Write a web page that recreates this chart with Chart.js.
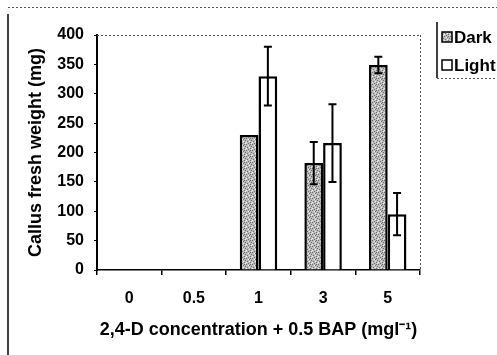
<!DOCTYPE html>
<html>
<head>
<meta charset="utf-8">
<script src="https://cdn.jsdelivr.net/npm/chart.js@4"></script>
<style>
  html, body { margin: 0; padding: 0; background: #fff; }
  #wrap { width: 497px; height: 355px; position: relative; }
</style>
</head>
<body>
<div id="wrap"><canvas id="c" width="497" height="355"></canvas></div>
<script>
const categories = ['0', '0.5', '1', '3', '5'];
const darkValues = [0, 0, 230, 182, 349];
const darkErrors = [0, 0, 0, 36, 14];
const lightValues = [0, 0, 330, 216, 95];
const lightErrors = [0, 0, 50, 66, 36];
const yTicks = [0, 50, 100, 150, 200, 250, 300, 350, 400];
const seriesNames = ['Dark', 'Light'];
const yTitle = 'Callus fresh weight (mg)';
const xTitle = '2,4-D concentration + 0.5 BAP (mgl\u207B\u00B9)';

const FONT = '"Liberation Sans", Arial, sans-serif';

// deterministic stipple pattern
function makeStipple() {
  const p = document.createElement('canvas');
  p.width = 6; p.height = 6;
  const g = p.getContext('2d');
  g.fillStyle = '#bcbcbc';
  g.fillRect(0, 0, 6, 6);
  const dark = [[0,0],[3,1],[1,3],[4,4],[5,2],[2,5],[4,0]];
  g.fillStyle = '#6e6e6e';
  dark.forEach(([x, y]) => g.fillRect(x, y, 1, 1));
  const light = [[2,1],[5,5],[0,4],[3,3]];
  g.fillStyle = '#eeeeee';
  light.forEach(([x, y]) => g.fillRect(x, y, 1, 1));
  return g.createPattern(p, 'repeat');
}
const ctx0 = document.getElementById('c').getContext('2d');
const stipple = makeStipple();

const errorBarsPlugin = {
  id: 'errorBars',
  afterDatasetsDraw(chart) {
    const ctx = chart.ctx;
    const y = chart.scales.y;
    ctx.save();
    ctx.strokeStyle = '#000';
    ctx.lineWidth = 2;
    chart.data.datasets.forEach((ds, di) => {
      const meta = chart.getDatasetMeta(di);
      meta.data.forEach((bar, i) => {
        const e = ds.errors[i];
        if (!e) return;
        const v = ds.data[i];
        const x = bar.x;
        const yt = y.getPixelForValue(v + e);
        const yb = y.getPixelForValue(v - e);
        ctx.beginPath();
        ctx.moveTo(x, yt); ctx.lineTo(x, yb);
        ctx.moveTo(x - 4, yt); ctx.lineTo(x + 4, yt);
        ctx.moveTo(x - 4, yb); ctx.lineTo(x + 4, yb);
        ctx.stroke();
      });
    });
    ctx.restore();
  }
};

const framePlugin = {
  id: 'frame',
  afterDraw(chart) {
    const ctx = chart.ctx;
    const a = chart.chartArea;
    ctx.save();
    // plot area dotted top and right
    ctx.strokeStyle = '#555';
    ctx.lineWidth = 1;
    ctx.setLineDash([2, 2]);
    ctx.beginPath();
    ctx.moveTo(a.left, a.top + 0.5); ctx.lineTo(a.right, a.top + 0.5);
    ctx.moveTo(a.right + 0.5, a.top); ctx.lineTo(a.right + 0.5, a.bottom);
    // outer top dotted line
    ctx.moveTo(8, 7.5); ctx.lineTo(497, 7.5);
    // legend bottom dotted
    ctx.moveTo(437, 78.5); ctx.lineTo(497, 78.5);
    ctx.stroke();
    ctx.setLineDash([]);
    // outer left solid line
    ctx.strokeStyle = '#000';
    ctx.lineWidth = 1.5;
    ctx.beginPath();
    ctx.moveTo(8, 14); ctx.lineTo(8, 355);
    ctx.stroke();
    // legend left border
    ctx.lineWidth = 1.5;
    ctx.beginPath();
    ctx.moveTo(437, 22); ctx.lineTo(437, 78);
    ctx.stroke();
    // legend items
    const fills = [stipple, '#ffffff'];
    const rows = [37, 65];
    ctx.font = 'bold 17px ' + FONT;
    ctx.textBaseline = 'middle';
    ctx.textAlign = 'left';
    chart.data.datasets.forEach((ds, i) => {
      const yy = rows[i];
      ctx.fillStyle = fills[i];
      ctx.fillRect(442, yy - 5, 10, 10);
      ctx.strokeStyle = '#000';
      ctx.lineWidth = 1.5;
      ctx.strokeRect(442, yy - 5, 10, 10);
      ctx.fillStyle = '#000';
      ctx.fillText(ds.label, 454, yy + 1);
    });
    ctx.restore();
  }
};

new Chart(ctx0, {
  type: 'bar',
  data: {
    labels: categories,
    datasets: [
      {
        label: seriesNames[0],
        data: darkValues,
        errors: darkErrors,
        backgroundColor: stipple,
        borderColor: '#000',
        borderWidth: 2.5,
        borderSkipped: 'bottom',
        categoryPercentage: 0.58,
        barPercentage: 1.0
      },
      {
        label: seriesNames[1],
        data: lightValues,
        errors: lightErrors,
        backgroundColor: '#ffffff',
        borderColor: '#000',
        borderWidth: 2.5,
        borderSkipped: 'bottom',
        categoryPercentage: 0.58,
        barPercentage: 1.0
      }
    ]
  },
  options: {
    responsive: false,
    animation: false,
    devicePixelRatio: 1,
    layout: { padding: { top: 35, right: 77, left: 0, bottom: 0 } },
    plugins: {
      legend: { display: false },
      tooltip: { enabled: false }
    },
    scales: {
      x: {
        afterFit(s) { s.height = 85; },
        grid: {
          offset: true,
          drawOnChartArea: false,
          drawTicks: true,
          tickLength: 5,
          color: '#000',
          lineWidth: 1.5
        },
        border: { display: true, color: '#000', width: 1.5 },
        ticks: {
          color: '#000',
          font: { family: FONT, size: 16, weight: 'bold' },
          padding: 14,
          maxRotation: 0
        },
        title: {
          display: true,
          text: xTitle,
          color: '#000',
          font: { family: FONT, size: 18, weight: 'bold' },
          padding: { top: 0, bottom: 14 }
        }
      },
      y: {
        min: 0,
        max: 400,
        afterFit(s) { s.width = 97; },
        afterBuildTicks(s) { s.ticks = yTicks.map(v => ({ value: v })); },
        grid: {
          drawOnChartArea: false,
          drawTicks: true,
          tickLength: 3,
          color: '#000',
          lineWidth: 1
        },
        border: { display: true, color: '#000', width: 2 },
        ticks: {
          color: '#000',
          font: { family: FONT, size: 16, weight: 'bold' },
          padding: 10
        },
        title: {
          display: true,
          text: yTitle,
          color: '#000',
          font: { family: FONT, size: 18, weight: 'bold' },
          padding: { top: 25, bottom: 0 }
        }
      }
    }
  },
  plugins: [errorBarsPlugin, framePlugin]
});
</script>
</body>
</html>
